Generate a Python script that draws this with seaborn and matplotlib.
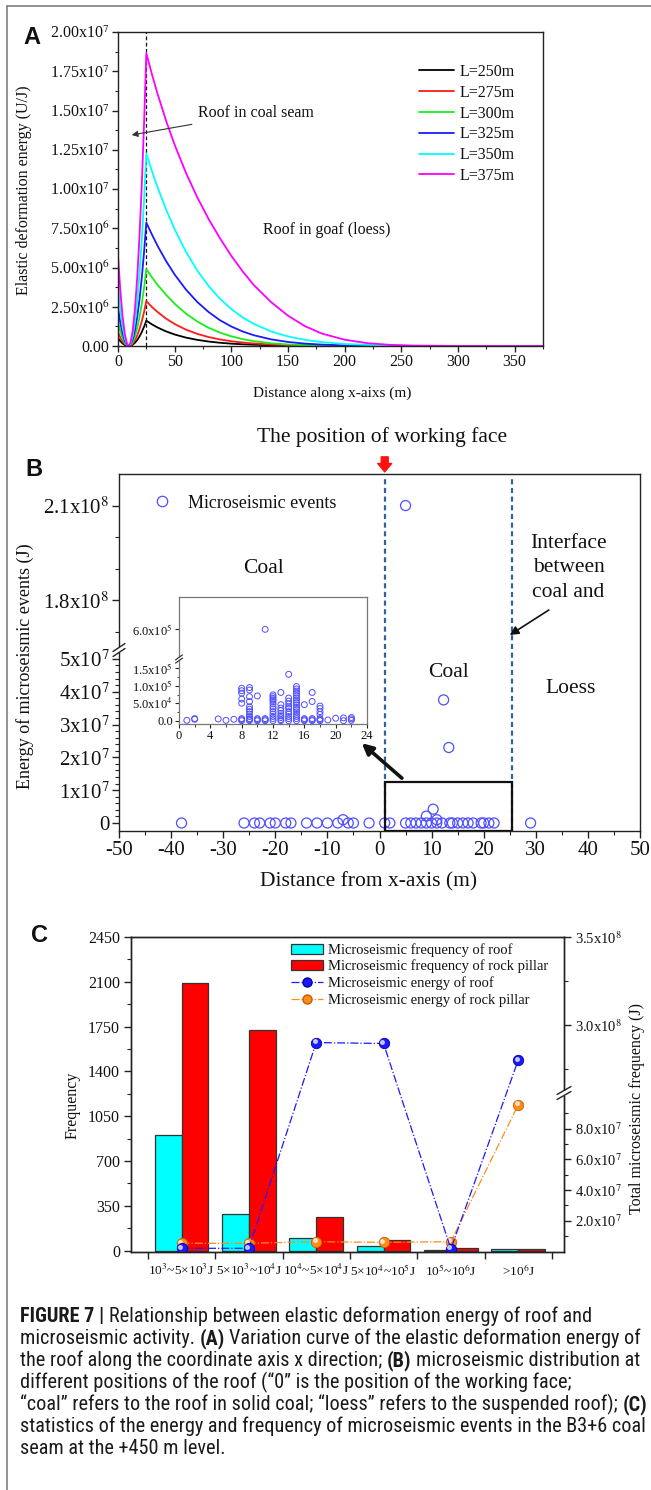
import numpy as np
import pandas as pd
import matplotlib
matplotlib.use("Agg")
import matplotlib.pyplot as plt
import seaborn as sns
from matplotlib import font_manager
from matplotlib.lines import Line2D
from matplotlib.patches import Patch, Rectangle
from matplotlib.ticker import FixedLocator, FixedFormatter
from matplotlib.transforms import offset_copy

# ---------------- (A) elastic deformation energy of the roof (1e6 J) ----------------
dist_a = [0, 2, 4, 6, 8, 9.4, 11, 13, 15, 17, 19, 21, 23, 25,
          30, 35, 42.5, 50, 60, 70, 80, 90, 100, 110, 120, 135, 150, 165, 180,
          200, 220, 240, 260, 300, 375]
span_labels = ["L=250m", "L=275m", "L=300m", "L=325m", "L=350m", "L=375m"]
energy_250 = [0.50, 0.31, 0.165, 0.066, 0.011, 0, 0.017, 0.086, 0.21, 0.38, 0.61, 0.89, 1.23, 1.61,
              1.375, 1.175, 0.928, 0.732, 0.534, 0.390, 0.284, 0.206, 0.150, 0.109, 0.079, 0.048,
              0.030, 0.018, 0.011, 0.005, 0.002, 0, 0, 0, 0]
energy_275 = [0.88, 0.55, 0.29, 0.12, 0.02, 0, 0.03, 0.15, 0.37, 0.68, 1.08, 1.58, 2.17, 2.86,
              2.48, 2.16, 1.74, 1.40, 1.04, 0.771, 0.568, 0.417, 0.304, 0.221, 0.160, 0.097,
              0.058, 0.035, 0.020, 0.009, 0.004, 0.002, 0, 0, 0]
energy_300 = [1.51, 0.94, 0.50, 0.20, 0.034, 0, 0.052, 0.26, 0.63, 1.16, 1.85, 2.70, 3.72, 4.89,
              4.37, 3.89, 3.25, 2.69, 2.06, 1.56, 1.16, 0.852, 0.616, 0.438, 0.307, 0.175,
              0.097, 0.052, 0.027, 0.011, 0.004, 0, 0, 0, 0]
energy_325 = [2.44, 1.51, 0.81, 0.32, 0.055, 0, 0.083, 0.42, 1.01, 1.87, 2.98, 4.35, 5.99, 7.86,
              7.09, 6.37, 5.40, 4.55, 3.59, 2.80, 2.16, 1.64, 1.24, 0.925, 0.683, 0.424,
              0.257, 0.152, 0.088, 0.040, 0.017, 0.007, 0.003, 0, 0]
energy_350 = [3.80, 2.35, 1.25, 0.50, 0.085, 0, 0.13, 0.65, 1.58, 2.90, 4.64, 6.77, 9.33, 12.25,
              11.13, 10.09, 8.68, 7.43, 6.00, 4.80, 3.82, 3.01, 2.35, 1.82, 1.40, 0.93,
              0.61, 0.39, 0.246, 0.129, 0.066, 0.032, 0.015, 0.003, 0]
energy_375 = [5.78, 3.58, 1.91, 0.76, 0.13, 0, 0.20, 0.99, 2.40, 4.42, 7.06, 10.3, 14.2, 18.64,
              17.29, 16.04, 14.33, 12.81, 11.02, 9.46, 8.08, 6.86, 5.74, 4.75, 3.87, 2.80,
              1.93, 1.26, 0.79, 0.40, 0.18, 0.073, 0.027, 0.003, 0]
colors_a = ["#000000", "#ff1a1a", "#1aee1a", "#1a1aff", "#00ffff", "#ff00ff"]

# ---------------- (B) microseismic events ----------------
event_x = [5, 12.3, 13.3, 10.3, 9, 11, -7, -38, -26, -24, -23, -21, -20, -18, -17, -14, -12,
           -10, -8, -6, -5, -2, 1, 2, 5, 6, 7, 8, 9, 10, 11, 12, 13.5, 14, 15, 16, 17, 18,
           19.5, 20, 21, 22, 29]
event_energy = [2.1e8, 3.75e7, 2.3e7, 4.2e6, 2.1e6, 1.0e6, 1.0e6] + [0.0] * 36

# events inside the working-face box (energy in 1e4 J)
inset_x = ([1, 2, 2, 5, 6, 7]
           + [8] * 8 + [9] * 12 + [10] * 4 + [11] * 4 + [12] * 13 + [13] * 9
           + [14] * 11 + [15] * 16 + [16] * 4 + [17] * 5 + [18] * 7
           + [19, 20, 21, 21, 22, 22, 22])
inset_energy = ([0.1, 0.4, 0.6, 0.5, 0.1, 0.4]
                + [0, 0.3, 0.6, 5.0, 6.2, 7.9, 8.6, 9.3]
                + [0, 0.3, 0.6, 1.2, 1.9, 2.6, 3.3, 4.0, 5.5, 6.9, 8.8, 9.5]
                + [0, 0.3, 0.6, 7.1]
                + [0, 0.3, 0.6, 60.0]
                + [0, 0.6, 1.2, 1.9, 2.6, 3.4, 4.0, 4.8, 5.5, 6.0, 6.4, 6.9, 7.4]
                + [0, 0.3, 0.9, 1.4, 2.1, 2.9, 3.6, 4.6, 8.1]
                + [0, 0.6, 1.2, 1.9, 2.6, 3.5, 4.0, 4.8, 5.6, 6.5, 13.3]
                + [0, 0.6, 1.2, 1.8, 2.5, 3.2, 3.8, 4.5, 5.2, 5.9, 6.5, 7.2, 7.9, 8.5, 9.1, 9.8]
                + [0, 0.3, 0.6, 4.6]
                + [0, 0.3, 0.6, 5.5, 8.1]
                + [0, 0.3, 0.6, 1.8, 2.6, 3.5, 4.2]
                + [0.2, 0.7, 0, 0.8, 0.1, 0.5, 0.9])

# ---------------- (C) frequency / energy statistics ----------------
energy_bins = [r"10$^{3}$~5×10$^{3}$J", r"5×10$^{3}$~10$^{4}$J", r"10$^{4}$~5×10$^{4}$J",
               r"5×10$^{4}$~10$^{5}$J", r"10$^{5}$~10$^{6}$J", r">10$^{6}$J"]
freq_roof = [900, 283, 101, 36, 7, 12]
freq_pillar = [2090, 1720, 262, 83, 18, 12]
energy_roof = [2.0e6, 2.0e6, 2.90e8, 2.895e8, 1.6e6, 2.80e8]
energy_pillar = [5.3e6, 5.3e6, 6.3e6, 5.9e6, 6.3e6, 9.54e7]

# ---------------- styling ----------------
sns.set_style("ticks")
plt.rcParams["font.family"] = ["Liberation Serif", "DejaVu Serif"]
plt.rcParams["mathtext.fontset"] = "stix"
plt.rcParams["axes.linewidth"] = 1.0
plt.rcParams["axes.edgecolor"] = "#222222"
plt.rcParams["xtick.color"] = "#222222"
plt.rcParams["ytick.color"] = "#222222"
plt.rcParams["text.color"] = "#111111"
plt.rcParams["xtick.labelcolor"] = "#111111"
plt.rcParams["ytick.labelcolor"] = "#111111"

W, H = 651, 1490
fig = plt.figure(figsize=(W / 100, H / 100), dpi=100)
fig.patch.set_facecolor("white")


def box(x0, y0, x1, y1):
    return [x0 / W, 1 - y1 / H, (x1 - x0) / W, (y1 - y0) / H]


def fxy(x, y):
    return (x / W, 1 - y / H)


def broken_scale(lo, b1, b2, hi, frac):
    """Piecewise-linear axis with the interval (b1, b2) removed."""
    def forward(v):
        v = np.asarray(v, dtype=float)
        low = (v - lo) / (b1 - lo) * frac
        high = frac + (v - b2) / (hi - b2) * (1 - frac)
        return np.where(v <= b1, low, np.where(v >= b2, high, frac))

    def inverse(u):
        u = np.asarray(u, dtype=float)
        return np.where(u <= frac, lo + u / frac * (b1 - lo),
                        b2 + (u - frac) / (1 - frac) * (hi - b2))
    return forward, inverse


def break_mark(xc, yc, half=6, gap=2.5, rise=3.5, lw=1.0):
    fig.add_artist(Rectangle(((xc - 3) / W, 1 - (yc + gap) / H), 6 / W, 2 * gap / H,
                             transform=fig.transFigure, fc="white", ec="none", zorder=20))
    for dy in (-gap, gap):
        fig.add_artist(Line2D([(xc - half) / W, (xc + half) / W],
                              [1 - (yc + dy + rise) / H, 1 - (yc + dy - rise) / H],
                              transform=fig.transFigure, color="#222222", lw=lw, zorder=21))


def set_ticks(axis, major, labels, minor=None):
    axis.set_major_locator(FixedLocator(major))
    axis.set_major_formatter(FixedFormatter(labels))
    axis.set_minor_locator(FixedLocator(minor if minor is not None else []))


# outer frame lines
fig.add_artist(Line2D([7 / W, 7 / W], [0, 1 - 6 / H], transform=fig.transFigure,
                      color="#808080", lw=1.2))
fig.add_artist(Line2D([7 / W, 1], [1 - 6 / H, 1 - 6 / H], transform=fig.transFigure,
                      color="#808080", lw=1.2))

panel_font = dict(family="Liberation Sans", weight="bold", fontsize=17)
fig.text(*fxy(32, 37), "A", ha="center", va="center", **panel_font)
fig.text(*fxy(34, 469), "B", ha="center", va="center", **panel_font)
fig.text(*fxy(40, 935), "C", ha="center", va="center", **panel_font)

# ======================= Panel A =======================
axA = fig.add_axes(box(118, 32, 543, 346))
series_a = [energy_250, energy_275, energy_300, energy_325, energy_350, energy_375]
dfA = pd.concat([pd.DataFrame({"dist": dist_a, "energy": np.array(v) * 1e6, "span": lab})
                 for v, lab in zip(series_a, span_labels)], ignore_index=True)
sns.lineplot(data=dfA, x="dist", y="energy", hue="span", palette=colors_a, linewidth=1.3,
             estimator=None, sort=False, ax=axA)
axA.axvline(25, color="#111111", lw=0.9, ls=(0, (3, 2)), zorder=1)
axA.set_xlim(0, 375)
axA.set_ylim(0, 2.0e7)
set_ticks(axA.xaxis, list(range(0, 376, 50)), [str(v) for v in range(0, 376, 50)],
          list(range(25, 376, 50)))
ya_major = [i * 2.5e6 for i in range(9)]
ya_labels = ["0.00", r"2.50x10$^{6}$", r"5.00x10$^{6}$", r"7.50x10$^{6}$", r"1.00x10$^{7}$",
             r"1.25x10$^{7}$", r"1.50x10$^{7}$", r"1.75x10$^{7}$", r"2.00x10$^{7}$"]
set_ticks(axA.yaxis, ya_major, ya_labels, [1.25e6 + i * 2.5e6 for i in range(8)])
axA.tick_params(which="major", length=4, width=1, pad=2, labelsize=11.5)
axA.tick_params(which="minor", length=2.5, width=0.8)
axA.set_xlabel("")
axA.set_ylabel("")
handles, labels = axA.get_legend_handles_labels()
axA.legend(handles, labels, loc="upper left", bbox_to_anchor=fxy(419, 64),
           bbox_transform=fig.transFigure, frameon=False, fontsize=11.5, handlelength=2.2,
           handletextpad=0.35, labelspacing=0.3, borderpad=0, borderaxespad=0)
axA.annotate("Roof in coal seam", xy=(12.1, 1.344e7), xytext=(70.5, 1.484e7),
             ha="left", va="center", fontsize=11.5,
             arrowprops=dict(arrowstyle="-|>", color="#333333", lw=0.8, mutation_scale=9,
                             shrinkA=2, shrinkB=0))
axA.text(184, 7.39e6, "Roof in goaf (loess)", ha="center", va="center", fontsize=11.5)
fig.text(*fxy(24, 190), "Elastic deformation energy (U/J)", rotation=90, ha="center",
         va="center", fontsize=11.5)
fig.text(*fxy(332, 393), "Distance along x-aixs (m)", ha="center", va="center", fontsize=11)

# ======================= Panel B =======================
ev_blue = "#4f4fff"
dash_blue = "#2f62a0"
axB = fig.add_axes(box(119, 474, 640, 831))
fB, iB = broken_scale(-2.44e6, 5.27e7, 1.642e8, 2.2e8, 0.507)
axB.set_yscale("function", functions=(fB, iB))
sns.scatterplot(x=event_x, y=event_energy, ax=axB, s=52, marker="o", linewidth=0.9, zorder=3)
pts = axB.collections[-1]
pts.set_facecolor("none")
pts.set_edgecolor(ev_blue)
axB.set_xlim(-50, 50)
axB.set_ylim(-2.44e6, 2.2e8)
for xv in (1, 25.4):
    axB.axvline(xv, ymin=0, ymax=0.989, color=dash_blue, lw=1.6, ls=(0, (2.3, 1.6)), zorder=2)
axB.add_patch(Rectangle((1, -2.44e6), 24.5, 1.25e7 + 2.44e6, fill=False, lw=1.6,
                        ec="#111111", zorder=4))
set_ticks(axB.xaxis, list(range(-50, 51, 10)), [str(v) for v in range(-50, 51, 10)],
          list(range(-45, 50, 10)))
yb_major = [0, 1e7, 2e7, 3e7, 4e7, 5e7, 1.8e8, 2.1e8]
yb_labels = ["0", r"1x10$^{7}$", r"2x10$^{7}$", r"3x10$^{7}$", r"4x10$^{7}$", r"5x10$^{7}$",
             r"1.8x10$^{8}$", r"2.1x10$^{8}$"]
yb_minor = [v * 1e6 for v in range(2, 52, 2) if v % 10 != 0] + [1.7e8, 1.9e8, 2.0e8]
set_ticks(axB.yaxis, yb_major, yb_labels, yb_minor)
axB.tick_params(which="major", length=5, width=1, pad=2, labelsize=15)
axB.tick_params(which="minor", length=3, width=0.8)
axB.set_xlabel("")
axB.set_ylabel("")
axB.legend(handles=[Line2D([], [], ls="none", marker="o", ms=7.5, mfc="none", mec=ev_blue,
                           mew=0.9)],
           labels=["Microseismic events"], loc="center left", bbox_to_anchor=fxy(153, 503),
           bbox_transform=fig.transFigure, frameon=False, fontsize=13, handlelength=1.0,
           handletextpad=0.95, borderpad=0, borderaxespad=0)
txt_b = dict(transform=axB.transAxes, ha="center", va="center", fontsize=15.5)
axB.text(0.278, 0.734, "Coal", **txt_b)
axB.text(0.633, 0.445, "Coal", **txt_b)
axB.text(0.866, 0.400, "Loess", **txt_b)
axB.text(0.863, 0.737, "Interface\nbetween\ncoal and", linespacing=1.42, **txt_b)
axB.annotate("", xy=(0.750, 0.549), xytext=(0.825, 0.619), xycoords="axes fraction",
             arrowprops=dict(arrowstyle="-|>", color="#111111", lw=1.2, mutation_scale=13,
                             shrinkA=0, shrinkB=0))
axB.annotate("", xy=(0.466, 0.246), xytext=(0.543, 0.148), xycoords="axes fraction",
             arrowprops=dict(arrowstyle="-|>", color="#111111", lw=2.6, mutation_scale=16,
                             shrinkA=0, shrinkB=0), zorder=6)
axB.annotate("", xy=(1, 1.006), xytext=(1, 1.048), xycoords=("data", "axes fraction"),
             arrowprops=dict(arrowstyle="simple,head_length=0.6,head_width=1.0,tail_width=0.5",
                             color="#ff1010", mutation_scale=10, shrinkA=0, shrinkB=0))
fig.text(*fxy(382, 437), "The position of working face", ha="center", va="center",
         fontsize=15.5)
fig.text(*fxy(25, 666), "Energy of microseismic events (J)", rotation=90, ha="center",
         va="center", fontsize=13)
fig.text(*fxy(369, 882), "Distance from x-axis (m)", ha="center", va="center", fontsize=15.5)
break_mark(119, 650, half=6, gap=2.5, rise=4)

# inset: events within the working-face box
axI = fig.add_axes(box(179, 597, 367, 724))
fI, iI = broken_scale(-9.5e3, 1.77e5, 5.45e5, 6.6e5, 0.512)
axI.set_yscale("function", functions=(fI, iI))
sns.scatterplot(x=inset_x, y=np.array(inset_energy) * 1e4, ax=axI, s=18, marker="o",
                linewidth=0.7, zorder=3)
ipts = axI.collections[-1]
ipts.set_facecolor("none")
ipts.set_edgecolor(ev_blue)
axI.set_xlim(0, 24)
axI.set_ylim(-9.5e3, 6.6e5)
set_ticks(axI.xaxis, list(range(0, 25, 4)), [str(v) for v in range(0, 25, 4)],
          list(range(2, 24, 4)))
set_ticks(axI.yaxis, [0, 5e4, 1e5, 1.5e5, 6e5],
          ["0.0", r"5.0x10$^{4}$", r"1.0x10$^{5}$", r"1.5x10$^{5}$", r"6.0x10$^{5}$"],
          [2.5e4, 7.5e4, 1.25e5])
axI.tick_params(which="major", length=3, width=0.8, pad=1.5, labelsize=9)
axI.tick_params(which="minor", length=1.8, width=0.6)
for sp in axI.spines.values():
    sp.set_color("#777777")
    sp.set_linewidth(0.9)
axI.set_xlabel("")
axI.set_ylabel("")
break_mark(179, 659, half=3.5, gap=1.6, rise=2.5, lw=0.8)

# ======================= Panel C =======================
roof_blue = "#1a1aff"
pillar_orange = "#ff8c1a"
axC = fig.add_axes(box(131, 937, 564, 1252))
dfC = pd.DataFrame({"bin": energy_bins * 2,
                    "count": freq_roof + freq_pillar,
                    "source": ["roof"] * len(energy_bins) + ["pillar"] * len(energy_bins)})
sns.barplot(data=dfC, x="bin", y="count", hue="source", order=energy_bins,
            hue_order=["roof", "pillar"], palette=["#00ffff", "#ff0000"], saturation=1,
            edgecolor="#333333", linewidth=0.9, errorbar=None, width=0.8, legend=False, ax=axC)
axC.set_xlim(-0.75, 5.68)
axC.set_ylim(-11, 2450)
axC.set_xticks(range(len(energy_bins)))
axC.set_xticklabels(energy_bins)
axC.set_xticks(np.arange(-0.5, len(energy_bins)), minor=True)
axC.tick_params(axis="x", which="major", length=0, pad=8, labelsize=9.6)
axC.tick_params(axis="x", which="minor", length=5, width=1)
set_ticks(axC.yaxis, list(range(0, 2451, 350)), [str(v) for v in range(0, 2451, 350)],
          list(range(175, 2450, 350)))
axC.tick_params(axis="y", which="major", length=5, width=1, pad=3, labelsize=11.5)
axC.tick_params(axis="y", which="minor", length=3, width=0.8)
axC.set_xlabel("")
axC.set_ylabel("")

axC2 = axC.twinx()
fC, iC = broken_scale(-4e5, 1.032e8, 2.614e8, 3.5e8, 0.505)
axC2.set_yscale("function", functions=(fC, iC))
bin_pos = np.arange(len(energy_bins))
for vals, col, edge in ((energy_pillar, pillar_orange, "#c85a00"),
                        (energy_roof, roof_blue, "#0000a0")):
    sns.lineplot(x=bin_pos, y=vals, ax=axC2, color=col, linestyle="-.", linewidth=0.9,
                 marker="o", markersize=7.5, markerfacecolor=col, markeredgecolor=edge,
                 markeredgewidth=0.6)
    axC2.plot(bin_pos, vals, ls="none", marker="o", ms=2.6, color="white", alpha=0.65,
              transform=offset_copy(axC2.transData, fig=fig, x=-1.2, y=1.2, units="points"))
axC2.set_ylim(-4e5, 3.5e8)
axC2.set_xlim(-0.75, 5.68)
set_ticks(axC2.yaxis, [2e7, 4e7, 6e7, 8e7, 3.0e8, 3.5e8],
          [r"2.0x10$^{7}$", r"4.0x10$^{7}$", r"6.0x10$^{7}$", r"8.0x10$^{7}$",
           r"3.0x10$^{8}$", r"3.5x10$^{8}$"],
          [1e7, 3e7, 5e7, 7e7, 9e7, 2.75e8, 3.25e8])
axC2.tick_params(axis="y", which="major", length=5, width=1, pad=3, labelsize=10.5)
axC2.tick_params(axis="y", which="minor", length=3, width=0.8)
axC2.set_xlabel("")
axC2.set_ylabel("")
legC = [Patch(fc="#00ffff", ec="#333333", lw=0.9, label="Microseismic frequency of roof"),
        Patch(fc="#ff0000", ec="#333333", lw=0.9, label="Microseismic frequency of rock pillar"),
        Line2D([], [], color=roof_blue, ls="-.", lw=0.9, marker="o", ms=6.5, mfc=roof_blue,
               mec="#0000a0", label="Microseismic energy of roof"),
        Line2D([], [], color=pillar_orange, ls="-.", lw=0.9, marker="o", ms=6.5,
               mfc=pillar_orange, mec="#c85a00", label="Microseismic energy of rock pillar")]
axC2.legend(handles=legC, loc="upper left", bbox_to_anchor=fxy(291, 943),
            bbox_transform=fig.transFigure, frameon=False, fontsize=10.5, handlelength=2.2,
            handletextpad=0.35, labelspacing=0.2, borderpad=0, borderaxespad=0)
fig.text(*fxy(73, 1105), "Frequency", rotation=90, ha="center", va="center", fontsize=11.5)
fig.text(*fxy(637, 1108), "Total microseismic frequency (J)", rotation=90, ha="center",
         va="center", fontsize=11.5)
break_mark(564, 1093, half=7, gap=2.5, rise=4)

# ======================= Caption =======================
available = {f.name for f in font_manager.fontManager.ttflist}
cap_family = next(f for f in ["Liberation Sans Narrow", "Roboto Condensed", "Liberation Sans",
                              "DejaVu Sans"] if f in available)
caption_lines = [
    [("FIGURE 7 |", True), ("Relationship between elastic deformation energy of roof and", False)],
    [("microseismic activity.", False), ("(A)", True),
     ("Variation curve of the elastic deformation energy of", False)],
    [("the roof along the coordinate axis x direction;", False), ("(B)", True),
     ("microseismic distribution at", False)],
    [("different positions of the roof (“0” is the position of the working face;", False)],
    [("“coal” refers to the roof in solid coal; “loess” refers to the suspended roof);", False),
     ("(C)", True)],
    [("statistics of the energy and frequency of microseismic events in the B3+6 coal", False)],
    [("seam at the +450 m level.", False)],
]
renderer = fig.canvas.get_renderer()


def layout_caption(size):
    arts = []
    probe1 = fig.text(0, 0, "a a", fontsize=size, family=cap_family)
    probe2 = fig.text(0, 0, "aa", fontsize=size, family=cap_family)
    space = probe1.get_window_extent(renderer).width - probe2.get_window_extent(renderer).width
    probe1.remove()
    probe2.remove()
    widths = []
    for i, segs in enumerate(caption_lines):
        x = 20.0
        y = 1317 + 22 * i + 5
        for text, bold in segs:
            t = fig.text(x / W, 1 - y / H, text, fontsize=size, family=cap_family,
                         weight="bold" if bold else "normal", ha="left", va="baseline",
                         color="#1a1a1a")
            bb = t.get_window_extent(renderer)
            x = bb.x1 + space
            arts.append(t)
        widths.append(x - space - 20.0)
    return arts, widths


arts, widths = layout_caption(12)
scale = 572.0 / widths[0]
for a in arts:
    a.remove()
layout_caption(12 * scale)

fig.savefig("out.png", dpi=100)
